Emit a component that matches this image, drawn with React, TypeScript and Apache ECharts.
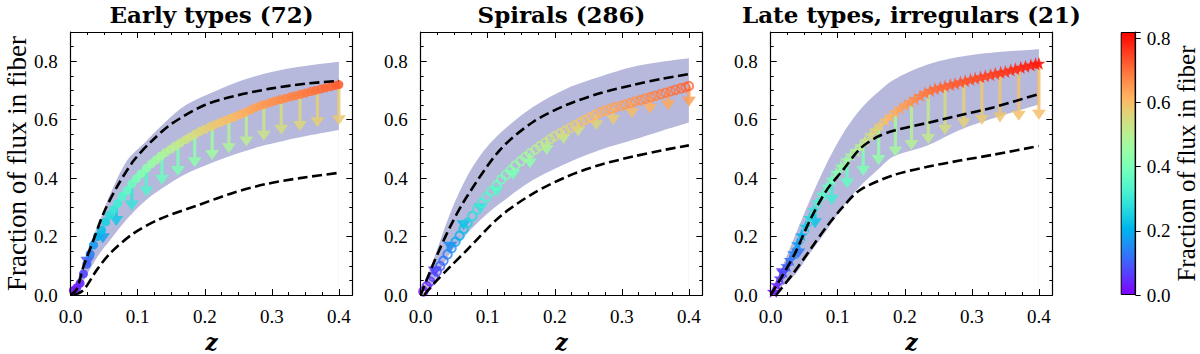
import React, { useEffect, useRef } from "react";
import * as echarts from "echarts";

// ---------------- data ----------------
const CMAX = 0.82;
const titles = ["Early types (72)", "Spirals (286)", "Late types, irregulars (21)"];
const xTickLabels = [0, 0.1, 0.2, 0.3, 0.4];
const yTickLabels = [0, 0.2, 0.4, 0.6, 0.8];
const cbTickLabels = [0, 0.2, 0.4, 0.6, 0.8];

const markerZ = [0.004, 0.009, 0.014, 0.019, 0.024, 0.029, 0.034, 0.04, 0.046, 0.052, 0.058, 0.064, 0.07, 0.077, 0.084, 0.091, 0.098, 0.105, 0.113, 0.12, 0.127, 0.134, 0.141, 0.149, 0.156, 0.163, 0.171, 0.178, 0.186, 0.193, 0.2, 0.208, 0.215, 0.223, 0.23, 0.238, 0.245, 0.253, 0.26, 0.268, 0.275, 0.283, 0.29, 0.298, 0.305, 0.313, 0.32, 0.328, 0.335, 0.343, 0.35, 0.358, 0.365, 0.373, 0.38, 0.388, 0.395, 0.4];

const earlyF = [0.015, 0.025, 0.04, 0.072, 0.105, 0.14, 0.171, 0.2, 0.222, 0.25, 0.273, 0.293, 0.313, 0.338, 0.358, 0.38, 0.398, 0.415, 0.434, 0.449, 0.462, 0.475, 0.487, 0.499, 0.51, 0.52, 0.531, 0.541, 0.551, 0.56, 0.567, 0.576, 0.583, 0.59, 0.597, 0.604, 0.61, 0.618, 0.625, 0.633, 0.641, 0.648, 0.653, 0.659, 0.664, 0.669, 0.673, 0.678, 0.682, 0.687, 0.691, 0.696, 0.7, 0.705, 0.709, 0.713, 0.717, 0.72];
const spiralF = [0.012, 0.03, 0.046, 0.062, 0.081, 0.099, 0.117, 0.139, 0.16, 0.182, 0.203, 0.226, 0.247, 0.27, 0.293, 0.315, 0.335, 0.355, 0.375, 0.395, 0.411, 0.427, 0.443, 0.458, 0.472, 0.485, 0.498, 0.51, 0.522, 0.533, 0.543, 0.553, 0.562, 0.572, 0.581, 0.59, 0.599, 0.608, 0.616, 0.625, 0.631, 0.637, 0.642, 0.647, 0.652, 0.657, 0.662, 0.667, 0.672, 0.677, 0.682, 0.687, 0.692, 0.697, 0.702, 0.707, 0.711, 0.715];
const lateF = [0.012, 0.035, 0.058, 0.08, 0.1, 0.121, 0.144, 0.175, 0.205, 0.235, 0.265, 0.291, 0.318, 0.345, 0.372, 0.396, 0.419, 0.441, 0.462, 0.479, 0.494, 0.51, 0.528, 0.548, 0.565, 0.581, 0.598, 0.612, 0.627, 0.639, 0.65, 0.661, 0.671, 0.682, 0.692, 0.7, 0.706, 0.711, 0.715, 0.72, 0.724, 0.729, 0.733, 0.738, 0.742, 0.746, 0.75, 0.754, 0.758, 0.762, 0.765, 0.77, 0.774, 0.779, 0.783, 0.787, 0.791, 0.793];

const earlyArrowZ = [0.025, 0.048, 0.068, 0.091, 0.113, 0.136, 0.16, 0.185, 0.211, 0.236, 0.262, 0.288, 0.314, 0.342, 0.368, 0.4];
const earlyArrowTop = [0.125, 0.22, 0.308, 0.38, 0.434, 0.48, 0.518, 0.55, 0.579, 0.604, 0.627, 0.651, 0.67, 0.687, 0.701, 0.72];
const earlyArrowTip = [0.097, 0.177, 0.236, 0.289, 0.337, 0.377, 0.407, 0.437, 0.462, 0.485, 0.508, 0.528, 0.548, 0.561, 0.574, 0.581];

const spiralArrowZ = [0.021, 0.044, 0.064, 0.089, 0.113, 0.138, 0.163, 0.188, 0.213, 0.235, 0.262, 0.287, 0.315, 0.342, 0.369, 0.4];
const spiralArrowTop = [0.069, 0.153, 0.226, 0.309, 0.375, 0.436, 0.485, 0.525, 0.56, 0.587, 0.618, 0.64, 0.659, 0.677, 0.694, 0.715];
const spiralArrowTip = [0.063, 0.148, 0.222, 0.28, 0.337, 0.394, 0.434, 0.479, 0.517, 0.542, 0.564, 0.582, 0.605, 0.62, 0.632, 0.644];

const lateArrowZ = [0.018, 0.041, 0.066, 0.091, 0.114, 0.138, 0.161, 0.186, 0.21, 0.235, 0.26, 0.288, 0.315, 0.342, 0.37, 0.4];
const lateArrowTop = [0.076, 0.18, 0.3, 0.396, 0.464, 0.52, 0.577, 0.627, 0.664, 0.697, 0.715, 0.731, 0.747, 0.762, 0.776, 0.793];
const lateArrowTip = [0.057, 0.125, 0.228, 0.308, 0.365, 0.408, 0.445, 0.474, 0.496, 0.517, 0.548, 0.571, 0.582, 0.59, 0.596, 0.6];

const earlyBandZ = [0, 0.012, 0.029, 0.044, 0.056, 0.084, 0.11, 0.133, 0.168, 0.208, 0.243, 0.282, 0.317, 0.36, 0.4];
const earlyBandHigh = [0, 0.063, 0.177, 0.257, 0.33, 0.46, 0.52, 0.574, 0.644, 0.69, 0.724, 0.753, 0.772, 0.787, 0.798];
const earlyBandLow = [0, 0.02, 0.09, 0.145, 0.18, 0.26, 0.32, 0.36, 0.41, 0.45, 0.48, 0.508, 0.527, 0.548, 0.565];

const spiralBandZ = [0, 0.019, 0.044, 0.069, 0.093, 0.118, 0.168, 0.218, 0.267, 0.317, 0.36, 0.4];
const spiralBandHigh = [0, 0.12, 0.28, 0.405, 0.49, 0.553, 0.644, 0.707, 0.747, 0.781, 0.798, 0.81];
const spiralBandLow = [0, 0.045, 0.143, 0.21, 0.265, 0.313, 0.394, 0.451, 0.496, 0.531, 0.562, 0.59];

const lateBandZ = [0, 0.0337, 0.0586, 0.0835, 0.108, 0.133, 0.158, 0.183, 0.232, 0.282, 0.332, 0.4];
const lateBandHigh = [0, 0.188, 0.325, 0.45, 0.553, 0.633, 0.69, 0.736, 0.787, 0.815, 0.83, 0.841];
const lateBandLow = [0, 0.063, 0.143, 0.222, 0.302, 0.371, 0.425, 0.474, 0.51, 0.565, 0.605, 0.652];

const earlyDashHiZ = [0, 0.009, 0.019, 0.034, 0.049, 0.069, 0.094, 0.12, 0.15, 0.2, 0.25, 0.3, 0.35, 0.4];
const earlyDashHi = [0, 0.02, 0.097, 0.188, 0.28, 0.37, 0.46, 0.525, 0.585, 0.65, 0.684, 0.707, 0.723, 0.733];
const earlyDashLoZ = [0.005, 0.019, 0.039, 0.059, 0.093, 0.133, 0.193, 0.243, 0.292, 0.342, 0.4];
const earlyDashLo = [0, 0.017, 0.086, 0.143, 0.21, 0.26, 0.31, 0.35, 0.38, 0.4, 0.418];

const spiralDashHiZ = [0, 0.019, 0.044, 0.069, 0.118, 0.168, 0.218, 0.267, 0.317, 0.36, 0.4];
const spiralDashHi = [0, 0.108, 0.234, 0.337, 0.496, 0.593, 0.651, 0.69, 0.719, 0.74, 0.756];
const spiralDashLoZ = [0.005, 0.02, 0.044, 0.069, 0.118, 0.168, 0.218, 0.267, 0.317, 0.36, 0.4];
const spiralDashLo = [0, 0.04, 0.097, 0.154, 0.268, 0.348, 0.405, 0.445, 0.474, 0.495, 0.512];

const lateDashHiZ = [0, 0.0337, 0.0586, 0.0835, 0.108, 0.133, 0.158, 0.183, 0.232, 0.282, 0.332, 0.4];
const lateDashHi = [0, 0.131, 0.256, 0.359, 0.428, 0.5, 0.54, 0.562, 0.588, 0.615, 0.642, 0.688];
const lateDashLoZ = [0.008, 0.0337, 0.0586, 0.0835, 0.108, 0.133, 0.183, 0.232, 0.282, 0.332, 0.4];
const lateDashLo = [0, 0.074, 0.154, 0.234, 0.302, 0.359, 0.41, 0.438, 0.46, 0.48, 0.51];

// ---------------- styling ----------------
const SERIF = "Liberation Serif";
const BAND = "#b6b8dc";
const gridLefts = [70.7, 420.7, 770.7];
const GRID_TOP = 32;
const GRID_W = 281.6;
const GRID_H = 263;
const STAR =
  "path://M0,-10L2.35,-3.24L9.51,-3.09L3.8,1.24L5.88,8.09L0,4L-5.88,8.09L-3.8,1.24L-9.51,-3.09L-2.35,-3.24Z";

function rainbow(v: number): string {
  const x = Math.max(0, Math.min(1, v / CMAX));
  const r = Math.min(1, Math.abs(2 * x - 0.5));
  const g = Math.sin(Math.PI * x);
  const b = Math.cos((Math.PI * x) / 2);
  return `rgb(${Math.round(r * 255)},${Math.round(g * 255)},${Math.round(b * 255)})`;
}

const isTick = (list: number[], v: number) => list.some((t) => Math.abs(t - v) < 1e-6);

const lineStyle = { color: "#000", width: 1.2 };
const tickStyle = { color: "#000", width: 1 };
const AXZ = 10;

function makeXAxes(g: number, title: string) {
  const base: any = { gridIndex: g, type: "value", min: 0, max: 0.42, splitLine: { show: false }, z: AXZ };
  return [
    {
      ...base,
      position: "bottom",
      interval: 0.1,
      axisLine: { show: true, onZero: false, lineStyle },
      axisTick: { show: true, inside: true, length: 6, lineStyle: tickStyle },
      axisLabel: {
        show: true,
        margin: 12,
        fontFamily: SERIF,
        fontSize: 19,
        color: "#000",
        formatter: (v: number) => (isTick(xTickLabels, v) ? v.toFixed(1) : ""),
      },
      name: "z",
      nameLocation: "middle",
      nameGap: 22,
      nameTextStyle: { fontFamily: "DejaVu Serif", fontStyle: "italic", fontWeight: "bold", fontSize: 22, lineHeight: 22, color: "#000" },
    },
    {
      ...base,
      position: "bottom",
      interval: 0.025,
      axisLine: { show: false, onZero: false },
      axisTick: { show: true, inside: true, length: 3, lineStyle: tickStyle },
      axisLabel: { show: false },
    },
    {
      ...base,
      position: "top",
      interval: 0.1,
      axisLine: { show: true, onZero: false, lineStyle },
      axisTick: { show: true, inside: true, length: 6, lineStyle: tickStyle },
      axisLabel: { show: false },
      name: title,
      nameLocation: "middle",
      nameGap: 6,
      nameTextStyle: { fontFamily: "DejaVu Serif", fontWeight: "bold", fontSize: 23, lineHeight: 23, color: "#000" },
    },
    {
      ...base,
      position: "top",
      interval: 0.025,
      axisLine: { show: false, onZero: false },
      axisTick: { show: true, inside: true, length: 3, lineStyle: tickStyle },
      axisLabel: { show: false },
    },
  ];
}

function makeYAxes(g: number, withName: boolean) {
  const base: any = { gridIndex: g, type: "value", min: 0, max: 0.9, splitLine: { show: false }, z: AXZ };
  const major: any = {
    ...base,
    position: "left",
    interval: 0.2,
    axisLine: { show: true, onZero: false, lineStyle },
    axisTick: { show: true, inside: true, length: 6, lineStyle: tickStyle },
    axisLabel: {
      show: true,
      margin: 13,
      fontFamily: SERIF,
      fontSize: 19,
      color: "#000",
      formatter: (v: number) => (isTick(yTickLabels, v) ? v.toFixed(1) : ""),
    },
  };
  if (withName) {
    major.name = "Fraction of flux in fiber";
    major.nameLocation = "middle";
    major.nameGap = 40;
    major.nameRotate = 90;
    major.nameTextStyle = { fontFamily: SERIF, fontSize: 27, lineHeight: 27, color: "#000" };
  }
  return [
    major,
    {
      ...base,
      position: "left",
      interval: 0.05,
      axisLine: { show: false, onZero: false },
      axisTick: { show: true, inside: true, length: 3, lineStyle: tickStyle },
      axisLabel: { show: false },
    },
    {
      ...base,
      position: "right",
      interval: 0.2,
      axisLine: { show: true, onZero: false, lineStyle },
      axisTick: { show: true, inside: true, length: 6, lineStyle: tickStyle },
      axisLabel: { show: false },
    },
    {
      ...base,
      position: "right",
      interval: 0.05,
      axisLine: { show: false, onZero: false },
      axisTick: { show: true, inside: true, length: 3, lineStyle: tickStyle },
      axisLabel: { show: false },
    },
  ];
}

type Panel = {
  title: string;
  markerF: number[];
  kind: "dot" | "ring" | "star";
  arrowZ: number[];
  arrowTop: number[];
  arrowTip: number[];
  bandZ: number[];
  bandLow: number[];
  bandHigh: number[];
  dashHiZ: number[];
  dashHi: number[];
  dashLoZ: number[];
  dashLo: number[];
};

const panels: Panel[] = [
  {
    title: titles[0], markerF: earlyF, kind: "dot",
    arrowZ: earlyArrowZ, arrowTop: earlyArrowTop, arrowTip: earlyArrowTip,
    bandZ: earlyBandZ, bandLow: earlyBandLow, bandHigh: earlyBandHigh,
    dashHiZ: earlyDashHiZ, dashHi: earlyDashHi, dashLoZ: earlyDashLoZ, dashLo: earlyDashLo,
  },
  {
    title: titles[1], markerF: spiralF, kind: "ring",
    arrowZ: spiralArrowZ, arrowTop: spiralArrowTop, arrowTip: spiralArrowTip,
    bandZ: spiralBandZ, bandLow: spiralBandLow, bandHigh: spiralBandHigh,
    dashHiZ: spiralDashHiZ, dashHi: spiralDashHi, dashLoZ: spiralDashLoZ, dashLo: spiralDashLo,
  },
  {
    title: titles[2], markerF: lateF, kind: "star",
    arrowZ: lateArrowZ, arrowTop: lateArrowTop, arrowTip: lateArrowTip,
    bandZ: lateBandZ, bandLow: lateBandLow, bandHigh: lateBandHigh,
    dashHiZ: lateDashHiZ, dashHi: lateDashHi, dashLoZ: lateDashLoZ, dashLo: lateDashLo,
  },
];

function arrowRender(params: any, api: any) {
  const z = api.value(0);
  const top = api.value(1);
  const tip = api.value(2);
  const pTop = api.coord([z, top]);
  const pTip = api.coord([z, tip]);
  const x = pTop[0];
  const yTop = pTop[1];
  const yTip = pTip[1];
  const headL = 10;
  const headW = 7;
  const sw = 1.6;
  const yBase = yTip - headL;
  const pts =
    yBase > yTop
      ? [[x - sw, yTop], [x + sw, yTop], [x + sw, yBase], [x + headW, yBase], [x, yTip], [x - headW, yBase], [x - sw, yBase]]
      : [[x + headW, yBase], [x, yTip], [x - headW, yBase]];
  return {
    type: "polygon",
    shape: { points: pts },
    style: { fill: rainbow(tip), opacity: 0.85 },
  };
}

function buildOption() {
  const xAxis: any[] = [];
  const yAxis: any[] = [];
  const series: any[] = [];
  const grid: any[] = [];

  panels.forEach((p, i) => {
    grid.push({ left: gridLefts[i], top: GRID_TOP, width: GRID_W, height: GRID_H, containLabel: false, outerBoundsMode: "none" });
    xAxis.push(...makeXAxes(i, p.title));
    yAxis.push(...makeYAxes(i, i === 0));
    const ax = { xAxisIndex: 4 * i, yAxisIndex: 4 * i };

    // band: area under the upper edge, then white area under the lower edge
    series.push({
      ...ax, type: "line", symbol: "none", smooth: 0.3, silent: true, z: 1,
      lineStyle: { width: 0, opacity: 0 },
      areaStyle: { color: BAND, opacity: 1 },
      data: p.bandZ.map((z, k) => [z, p.bandHigh[k]]),
    });
    series.push({
      ...ax, type: "line", symbol: "none", smooth: 0.3, silent: true, z: 1.5,
      lineStyle: { width: 0, opacity: 0 },
      areaStyle: { color: "#fff", opacity: 1 },
      data: p.bandZ.map((z, k) => [z, p.bandLow[k]]),
    });
    series.push({
      ...ax, type: "custom", z: 3, renderItem: arrowRender,
      encode: { x: 0, y: [1, 2] },
      data: p.arrowZ.map((z, k) => [z, p.arrowTop[k], p.arrowTip[k]]),
    });
    const markerData = markerZ.map((z, k) => {
      const f = p.markerF[k];
      let itemStyle: any;
      if (p.kind === "ring") itemStyle = { color: "rgba(255,255,255,0)", borderColor: rainbow(f), borderWidth: 2 };
      else itemStyle = { color: rainbow(f), opacity: 0.9 };
      return { value: [z, f], itemStyle };
    });
    series.push({
      ...ax, type: "scatter", z: 4,
      symbol: p.kind === "star" ? STAR : "circle",
      symbolSize: p.kind === "star" ? 13 : p.kind === "ring" ? 8.5 : 9,
      data: markerData,
    });
    const dash = { color: "#000", width: 2.6, type: [10, 4.5] };
    series.push({
      ...ax, type: "line", symbol: "none", smooth: 0.3, z: 6, lineStyle: dash,
      data: p.dashHiZ.map((z, k) => [z, p.dashHi[k]]),
    });
    series.push({
      ...ax, type: "line", symbol: "none", smooth: 0.3, z: 6, lineStyle: dash,
      data: p.dashLoZ.map((z, k) => [z, p.dashLo[k]]),
    });
  });

  // colorbar
  grid.push({ left: 1120.7, top: GRID_TOP, width: 15, height: GRID_H, containLabel: false, outerBoundsMode: "none" });
  xAxis.push({ gridIndex: 3, type: "category", data: ["cb"], show: false });
  yAxis.push({
    gridIndex: 3, type: "value", position: "right", min: 0, max: CMAX, interval: 0.2,
    splitLine: { show: false }, z: AXZ,
    axisLine: { show: true, onZero: false, lineStyle },
    axisTick: { show: true, inside: false, length: 5, lineStyle: tickStyle },
    axisLabel: {
      show: true, margin: 11, fontFamily: SERIF, fontSize: 19, color: "#000",
      formatter: (v: number) => (isTick(cbTickLabels, v) ? v.toFixed(1) : ""),
    },
    name: "Fraction of flux in fiber",
    nameLocation: "middle",
    nameRotate: 90,
    nameGap: 29,
    nameTextStyle: { fontFamily: SERIF, fontSize: 25, lineHeight: 25, color: "#000" },
  });
  const stops = [];
  for (let k = 0; k <= 20; k++) {
    stops.push({ offset: k / 20, color: rainbow((k / 20) * CMAX) });
  }
  series.push({
    type: "bar", xAxisIndex: 12, yAxisIndex: 12, barWidth: "100%", silent: true,
    data: [CMAX],
    itemStyle: {
      color: new echarts.graphic.LinearGradient(0, 1, 0, 0, stops),
      borderColor: "#000",
      borderWidth: 1,
    },
  });

  return { animation: false, backgroundColor: "#fff", grid, xAxis, yAxis, series };
}

export default function App() {
  const ref = useRef<HTMLDivElement>(null);
  useEffect(() => {
    if (!ref.current) return;
    const chart = echarts.init(ref.current, undefined, { renderer: "svg" });
    chart.setOption(buildOption() as any);
    return () => chart.dispose();
  }, []);
  return <div ref={ref} style={{ position: "fixed", left: 0, top: 0, width: 1200, height: 354 }} />;
}
